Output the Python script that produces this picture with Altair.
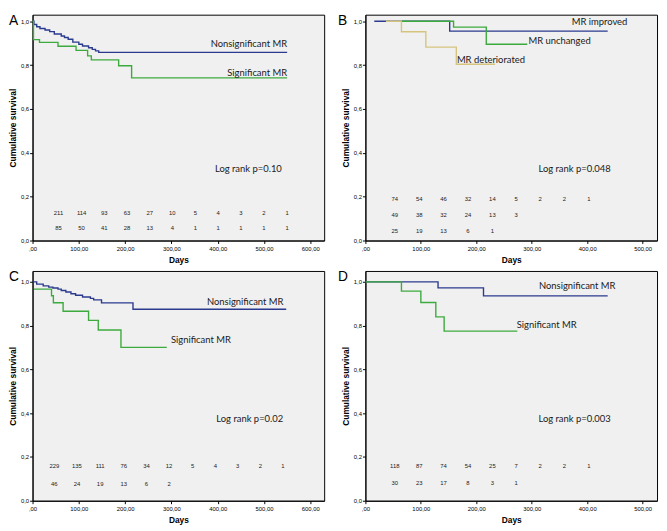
import altair as alt
import pandas as pd

# ---------------- data ----------------
# Panel A
A_nonsig_days = [0, 3, 9, 16, 27, 37, 47, 62, 69, 77, 87, 100, 108, 121, 129, 136, 143, 550]
A_nonsig_surv = [1.0, 0.985, 0.975, 0.967, 0.960, 0.953, 0.942, 0.933, 0.926, 0.918, 0.905,
                 0.895, 0.887, 0.879, 0.872, 0.865, 0.858, 0.858]
A_sig_days = [0, 2, 15, 55, 94, 119, 127, 186, 214, 550]
A_sig_surv = [1.0, 0.916, 0.904, 0.886, 0.867, 0.842, 0.824, 0.797, 0.742, 0.742]
A_risk_days = [56, 106, 155, 204, 253, 302, 352, 401, 450, 500, 550]
A_risk_nonsig = [211, 114, 93, 63, 27, 10, 5, 4, 3, 2, 1]
A_risk_sig = [85, 50, 41, 28, 13, 4, 1, 1, 1, 1, 1]

# Panel B
B_imp_days = [16, 152, 437]
B_imp_surv = [1.0, 0.955, 0.955]
B_det_days = [37, 65, 109, 164, 234]
B_det_surv = [1.0, 0.952, 0.882, 0.804, 0.804]
B_unch_days = [66, 159, 218, 292]
B_unch_surv = [1.0, 0.973, 0.895, 0.895]
B_risk_days = [53, 97, 141, 185, 229, 272, 315, 359, 403]
B_risk_imp = [74, 54, 46, 32, 14, 5, 2, 2, 1]
B_risk_unch = [49, 38, 32, 24, 13, 3]
B_risk_det = [25, 19, 13, 6, 1]

# Panel C
C_nonsig_days = [0, 9, 23, 35, 44, 55, 62, 72, 83, 93, 108, 125, 132, 149, 217, 548]
C_nonsig_surv = [1.0, 0.990, 0.982, 0.976, 0.972, 0.967, 0.961, 0.954, 0.946, 0.939,
                 0.931, 0.925, 0.918, 0.904, 0.875, 0.875]
C_sig_days = [3, 41, 45, 66, 121, 142, 191, 290]
C_sig_surv = [0.967, 0.937, 0.905, 0.866, 0.824, 0.780, 0.701, 0.701]
C_risk_days = [47, 96, 146, 197, 246, 295, 346, 395, 443, 492, 541]
C_risk_nonsig = [229, 135, 111, 76, 34, 12, 5, 4, 3, 2, 1]
C_risk_sig = [46, 24, 19, 13, 6, 2]

# Panel D
D_nonsig_days = [0, 131, 213, 437]
D_nonsig_surv = [1.0, 0.973, 0.936, 0.936]
D_sig_days = [0, 65, 100, 127, 142, 274]
D_sig_surv = [1.0, 0.958, 0.906, 0.840, 0.775, 0.775]
D_risk_days = [53, 97, 141, 185, 229, 272, 315, 359, 403]
D_risk_nonsig = [118, 87, 74, 54, 25, 7, 2, 2, 1]
D_risk_sig = [30, 23, 17, 8, 3, 1]

# ---------------- styling ----------------
BLUE = "#2a3a8e"
GREEN = "#3caa3c"
TAN = "#d6c47e"
AXFONT = "Liberation Sans"
LBLFONT = "Lato"
LBLSIZE = 9.6
TXT = "#1a1a1a"

X_LABELS = "datum.value == 0 ? ',00' : datum.value + ',00'"
Y_LABELS = "replace(format(datum.value, '.1f'), '.', ',')"


def xenc(xmax, ticks):
    return alt.X(
        "x:Q",
        scale=alt.Scale(domain=[0, xmax], nice=False, zero=False),
        axis=alt.Axis(values=ticks, labelExpr=X_LABELS, title="Days", grid=False,
                      labelFontSize=6, labelFont=AXFONT, labelColor="#000",
                      titleFont=AXFONT, titleFontSize=8.5, titleFontWeight="bold",
                      titleColor="#000", tickSize=3, tickColor="#000",
                      domainColor="#000", labelPadding=2, titlePadding=4,
                      labelFlush=False, labelOverlap=False),
    )


def yenc(ymax):
    return alt.Y(
        "y:Q",
        scale=alt.Scale(domain=[0, ymax], nice=False, zero=False),
        axis=alt.Axis(values=[0, 0.2, 0.4, 0.6, 0.8, 1.0], labelExpr=Y_LABELS,
                      title="Cumulative survival", grid=False,
                      labelFontSize=6, labelFont=AXFONT, labelColor="#000",
                      titleFont=AXFONT, titleFontSize=8.5, titleFontWeight="bold",
                      titleColor="#000", tickSize=3, tickColor="#000",
                      domainColor="#000", labelPadding=1, titlePadding=3,
                      labelFlush=False),
    )


def panel(letter, letter_dx, width, height, xmax, ymax, ticks, series, risk_days,
          risk_rows, risk_ys, labels_left, labels_right):
    X = xenc(xmax, ticks)
    Y = yenc(ymax)
    layers = []
    for days, surv, col in series:
        df = pd.DataFrame({"x": days, "y": surv})
        layers.append(alt.Chart(df).mark_line(interpolate="step-after", color=col,
                                              strokeWidth=1.4).encode(x=X, y=Y))
    rows = []
    for counts, ypos in zip(risk_rows, risk_ys):
        for d, n in zip(risk_days, counts):
            rows.append({"x": d, "y": ypos, "t": str(n)})
    layers.append(alt.Chart(pd.DataFrame(rows)).mark_text(
        fontSize=6, font=AXFONT, color=TXT).encode(x=X, y=Y, text="t:N"))
    if labels_left:
        layers.append(alt.Chart(pd.DataFrame(labels_left)).mark_text(
            fontSize=LBLSIZE, font=LBLFONT, color=TXT, align="left", baseline="middle"
        ).encode(x=X, y=Y, text="t:N"))
    if labels_right:
        layers.append(alt.Chart(pd.DataFrame(labels_right)).mark_text(
            fontSize=LBLSIZE, font=LBLFONT, color=TXT, align="right", baseline="middle"
        ).encode(x=X, y=Y, text="t:N"))
    layers.append(alt.Chart(pd.DataFrame({"t": [letter]})).mark_text(
        fontSize=14, font=AXFONT, color="#000", align="left", baseline="top"
    ).encode(x=alt.value(letter_dx), y=alt.value(-1), text="t:N"))
    return alt.layer(*layers).properties(width=width, height=height)


def lab(ts, xs, ys):
    return [{"t": t, "x": x, "y": y} for t, x, y in zip(ts, xs, ys)]


WA, WB, HT, HB = 297, 297, 230, 234
TOPMAX, BOTMAX = 1.03, 1.05
TICKS6 = [0, 100, 200, 300, 400, 500, 600]
TICKS5 = [0, 100, 200, 300, 400, 500]

pA = panel("A", -24, WA, HT, 630, TOPMAX, TICKS6,
           [(A_nonsig_days, A_nonsig_surv, BLUE), (A_sig_days, A_sig_surv, GREEN)],
           A_risk_days, [A_risk_nonsig, A_risk_sig], [0.126, 0.055],
           lab(["Log rank p=0.10"], [394], [0.324]),
           lab(["Nonsignificant MR", "Significant MR"], [550, 550], [0.894, 0.765]))

pB = panel("B", -28, WB, HT, 526, TOPMAX, TICKS5,
           [(B_imp_days, B_imp_surv, BLUE), (B_det_days, B_det_surv, TAN),
            (B_unch_days, B_unch_surv, GREEN)],
           B_risk_days, [B_risk_imp, B_risk_unch, B_risk_det], [0.187, 0.115, 0.043],
           lab(["MR improved", "MR unchanged", "MR deteriorated", "Log rank p=0.048"],
               [372, 294, 165, 312], [0.996, 0.912, 0.824, 0.324]),
           None)

pC = panel("C", -24, WA, HB, 630, BOTMAX, TICKS6,
           [(C_nonsig_days, C_nonsig_surv, BLUE), (C_sig_days, C_sig_surv, GREEN)],
           C_risk_days, [C_risk_nonsig, C_risk_sig], [0.159, 0.076],
           lab(["Significant MR", "Log rank p=0.02"], [299, 397], [0.734, 0.371]),
           lab(["Nonsignificant MR"], [542], [0.910]))

pD = panel("D", -28, WB, HB, 526, BOTMAX, TICKS5,
           [(D_nonsig_days, D_nonsig_surv, BLUE), (D_sig_days, D_sig_surv, GREEN)],
           D_risk_days, [D_risk_nonsig, D_risk_sig], [0.157, 0.082],
           lab(["Nonsignificant MR", "Significant MR", "Log rank p=0.003"],
               [313, 273, 312], [0.982, 0.805, 0.371]),
           None)

chart = alt.concat(pA, pB, pC, pD, columns=2, spacing={"row": 31, "column": 42},
                   bounds="flush").properties(
    padding={"left": 0, "top": 0, "right": 1, "bottom": 1}
).configure_view(stroke="#000", strokeWidth=1, fill="#f0f0f0")

chart.save("out.html", embed_options={"renderer": "svg", "actions": False})
